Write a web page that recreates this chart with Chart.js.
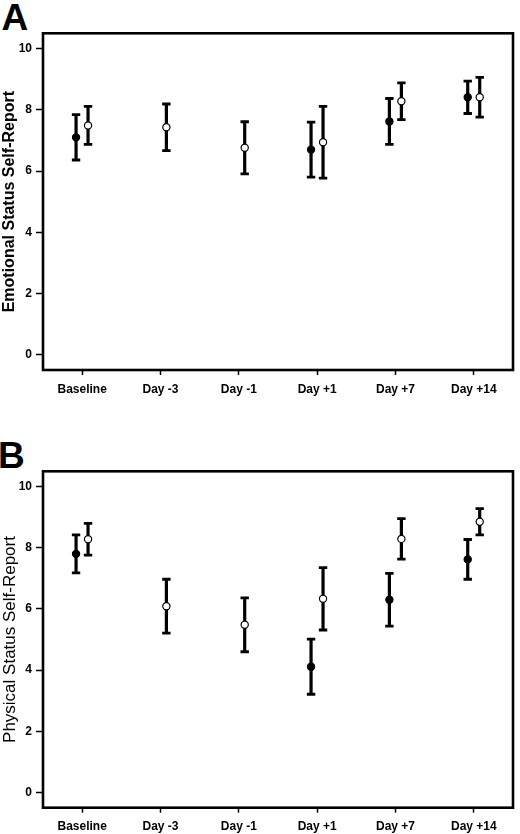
<!DOCTYPE html>
<html>
<head>
<meta charset="utf-8">
<script src="https://cdn.jsdelivr.net/npm/chart.js@4.4.1/dist/chart.umd.min.js"></script>
<style>
  html, body { margin: 0; padding: 0; background: #fff; }
  body { width: 520px; height: 834px; position: relative; overflow: hidden; font-family: "Liberation Sans", Arial, sans-serif; }
  .panel { position: absolute; left: 0; }
  .letter { position: absolute; font-weight: bold; font-size: 37px; line-height: 37px; color: #000; }
</style>
</head>
<body>
<div class="letter" style="left:1.5px; top:-1.5px;">A</div>
<div class="letter" style="left:-2px; top:436.5px;">B</div>
<canvas id="chartA" class="panel" style="top:0px;" width="520" height="400"></canvas>
<canvas id="chartB" class="panel" style="top:438px;" width="520" height="396"></canvas>
<script>
const categories = ['Baseline', 'Day -3', 'Day -1', 'Day +1', 'Day +7', 'Day +14'];
const yTicks = [0, 2, 4, 6, 8, 10];

// panel A: emotional status, mean and error half-width
const emotionalFilledMean = [7.1, null, null, 6.7, 7.62, 8.41];
const emotionalFilledErr = [0.74, null, null, 0.9, 0.75, 0.53];
const emotionalOpenMean = [7.49, 7.43, 6.76, 6.94, 8.28, 8.41];
const emotionalOpenErr = [0.62, 0.76, 0.85, 1.17, 0.6, 0.65];

// panel B: physical status
const physicalFilledMean = [7.8, null, null, 4.11, 6.3, 7.62];
const physicalFilledErr = [0.62, null, null, 0.9, 0.86, 0.65];
const physicalOpenMean = [8.28, 6.09, 5.48, 6.33, 8.29, 8.85];
const physicalOpenErr = [0.52, 0.88, 0.88, 1.02, 0.66, 0.43];

const FONT = '"Liberation Sans", Arial, sans-serif';
const FILLED_SHIFT = -0.078;
const OPEN_SHIFT = 0.075;

const boxPlugin = {
    id: 'box',
    afterDatasetsDraw(chart) {
        const {ctx, chartArea} = chart;
        ctx.save();
        ctx.strokeStyle = '#000';
        ctx.lineWidth = 2.6;
        ctx.strokeRect(chartArea.left, chartArea.top, chartArea.right - chartArea.left, chartArea.bottom - chartArea.top);
        ctx.restore();
    }
};

const seriesSets = (means, errs, shift, fill) => {
    const bars = [];
    const caps = [];
    const dots = [];
    means.forEach((m, i) => {
        if (m === null) return;
        const x = i + shift;
        bars.push({x: x, y: m - errs[i]}, {x: x, y: m + errs[i]}, {x: x, y: null});
        caps.push({x: x, y: m - errs[i]}, {x: x, y: m + errs[i]});
        dots.push({x: x, y: m});
    });
    return [
        {
            type: 'scatter', data: dots, order: 0,
            pointRadius: 3.6, pointStyle: 'circle',
            backgroundColor: fill, borderColor: '#000', pointBorderWidth: 1.2,
        },
        {
            type: 'scatter', data: caps, order: 1,
            pointRadius: 4.2, pointStyle: 'line',
            backgroundColor: '#000', borderColor: '#000', pointBorderWidth: 2.8,
        },
        {
            type: 'line', data: bars, order: 2,
            borderColor: '#000', borderWidth: 3.2, pointRadius: 0, spanGaps: false, fill: false,
        },
    ];
};

const makeChart = (id, title, titleWeight, titleSize, filledMean, filledErr, openMean, openErr, xHeight) => {
    const ctx = document.getElementById(id);
    return new Chart(ctx, {
        type: 'scatter',
        data: {
            datasets: [
                ...seriesSets(filledMean, filledErr, FILLED_SHIFT, '#000'),
                ...seriesSets(openMean, openErr, OPEN_SHIFT, '#fff'),
            ],
        },
        options: {
            responsive: false,
            animation: false,
            events: [],
            layout: { padding: { top: 33.3, right: 3.3, left: 0, bottom: 0 } },
            plugins: { legend: { display: false }, tooltip: { enabled: false } },
            scales: {
                x: {
                    type: 'linear',
                    min: -0.5,
                    max: 5.5,
                    afterBuildTicks: (scale) => { scale.ticks = categories.map((c, i) => ({ value: i })); },
                    afterFit: (scale) => { scale.height = xHeight; },
                    border: { display: false },
                    grid: { drawOnChartArea: false, drawTicks: true, tickLength: 5, tickWidth: 1.5, tickColor: '#000' },
                    ticks: {
                        color: '#000',
                        padding: 7,
                        maxRotation: 0,
                        font: { family: FONT, size: 12, weight: 'bold' },
                        callback: (value) => categories[value],
                    },
                },
                y: {
                    type: 'linear',
                    min: -0.5,
                    max: 10.5,
                    afterBuildTicks: (scale) => { scale.ticks = yTicks.map(v => ({ value: v })); },
                    afterFit: (scale) => { scale.width = 43; },
                    border: { display: false },
                    grid: { drawOnChartArea: false, drawTicks: true, tickLength: 7, tickWidth: 1.5, tickColor: '#000' },
                    ticks: {
                        color: '#000',
                        padding: 4,
                        font: { family: FONT, size: 12, weight: 'bold' },
                    },
                    title: {
                        display: true,
                        text: title,
                        color: '#000',
                        padding: { top: 0.5, bottom: 0 },
                        font: { family: FONT, size: titleSize, weight: titleWeight, lineHeight: 1.1 },
                    },
                },
            },
        },
        plugins: [boxPlugin],
    });
};

makeChart('chartA', 'Emotional Status Self-Report', 'bold', 16,
    emotionalFilledMean, emotionalFilledErr, emotionalOpenMean, emotionalOpenErr, 30);
makeChart('chartB', 'Physical Status Self-Report', 'normal', 17,
    physicalFilledMean, physicalFilledErr, physicalOpenMean, physicalOpenErr, 26.3);
</script>
</body>
</html>
